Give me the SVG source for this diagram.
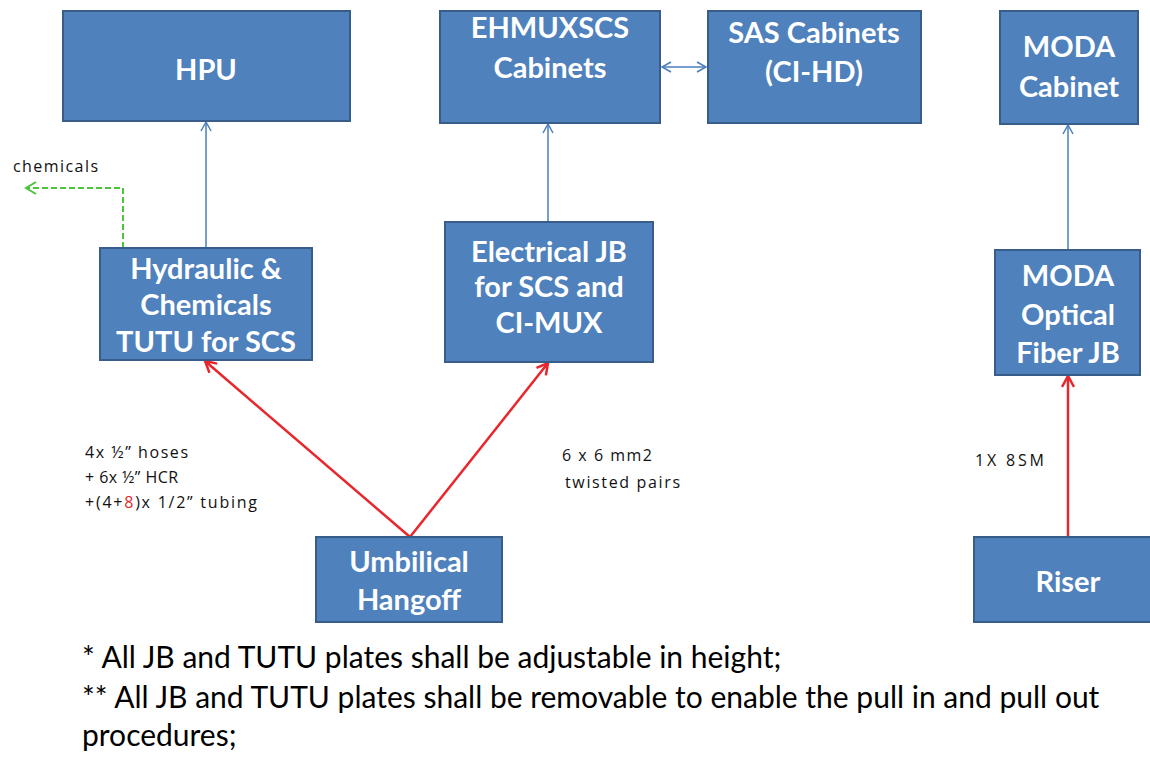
<svg xmlns="http://www.w3.org/2000/svg" width="1150" height="758" viewBox="0 0 1150 758">
<style>
.box{fill:#4F81BD;stroke:#385D8A;stroke-width:2}
.bt{font-family:Lato,"Open Sans",sans-serif;font-weight:bold;font-size:29px;fill:#fff;text-anchor:middle}
.sm{font-family:"Open Sans",sans-serif;font-size:16px;fill:#111}
.note{font-family:Lato,"Open Sans",sans-serif;font-size:30px;fill:#000}
.blue{stroke:#4A7EBB;stroke-width:1.5;fill:none}
.red{stroke:#E8262B;stroke-width:2.5;fill:none}
.green{stroke:#4CC43C;stroke-width:2;fill:none;stroke-dasharray:6,3}
</style>
<defs>
<marker id="ab" markerWidth="12" markerHeight="12" refX="10" refY="6" orient="auto" markerUnits="userSpaceOnUse"><path d="M1,1 L10,6 L1,11" fill="none" stroke="#4A7EBB" stroke-width="1.5"/></marker>
<marker id="abs" markerWidth="12" markerHeight="12" refX="10" refY="6" orient="auto-start-reverse" markerUnits="userSpaceOnUse"><path d="M1,1 L10,6 L1,11" fill="none" stroke="#4A7EBB" stroke-width="1.5"/></marker>
<marker id="ar" markerWidth="14" markerHeight="14" refX="12" refY="7" orient="auto" markerUnits="userSpaceOnUse"><path d="M1,1 L12,7 L1,13" fill="none" stroke="#E8262B" stroke-width="2.5"/></marker>
<marker id="ag" markerWidth="14" markerHeight="14" refX="11" refY="7" orient="auto" markerUnits="userSpaceOnUse"><path d="M1,1 L11,7 L1,13" fill="none" stroke="#4CC43C" stroke-width="2"/></marker>
</defs>
<g id="connectors">
<line class="blue" x1="206" y1="248" x2="206" y2="122" marker-end="url(#ab)"/>
<line class="blue" x1="548" y1="222" x2="548" y2="124" marker-end="url(#ab)"/>
<line class="blue" x1="1068" y1="250" x2="1068" y2="125" marker-end="url(#ab)"/>
<line class="blue" x1="662" y1="67" x2="706" y2="67" marker-start="url(#abs)" marker-end="url(#ab)"/>
<line class="red" x1="410" y1="537" x2="205" y2="361" marker-end="url(#ar)"/>
<line class="red" x1="410" y1="537" x2="548" y2="363" marker-end="url(#ar)"/>
<line class="red" x1="1068" y1="537" x2="1068" y2="376" marker-end="url(#ar)"/>
<polyline class="green" points="123,248 123,188 26,188" marker-end="url(#ag)"/>
</g>
<g id="hpu"><rect class="box" x="63" y="11" width="287" height="110"/><text class="bt" x="206" y="80">HPU</text></g>
<g id="ehmux"><rect class="box" x="440" y="11" width="220" height="112"/><text class="bt" x="550" y="38">EHMUXSCS</text><text class="bt" x="550" y="78">Cabinets</text></g>
<g id="sas"><rect class="box" x="708" y="11" width="213" height="112"/><text class="bt" x="814" y="43">SAS Cabinets</text><text class="bt" x="814" y="82">(CI-HD)</text></g>
<g id="moda-cab"><rect class="box" x="1000" y="11" width="138" height="113"/><text class="bt" x="1069" y="57">MODA</text><text class="bt" x="1069" y="97">Cabinet</text></g>
<g id="hydraulic"><rect class="box" x="100" y="248" width="212" height="112"/><text class="bt" x="206" y="279">Hydraulic &amp;</text><text class="bt" x="206" y="315">Chemicals</text><text class="bt" x="206" y="352">TUTU for SCS</text></g>
<g id="electrical"><rect class="box" x="445" y="222" width="208" height="140"/><text class="bt" x="549" y="262">Electrical JB</text><text class="bt" x="549" y="297">for SCS and</text><text class="bt" x="549" y="333">CI-MUX</text></g>
<g id="moda-jb"><rect class="box" x="995" y="250" width="145" height="125"/><text class="bt" x="1068" y="286">MODA</text><text class="bt" x="1068" y="325">Optical</text><text class="bt" x="1068" y="363">Fiber JB</text></g>
<g id="umbilical"><rect class="box" x="316" y="537" width="186" height="85"/><text class="bt" x="409" y="572">Umbilical</text><text class="bt" x="409" y="610">Hangoff</text></g>
<g id="riser"><rect class="box" x="974" y="537" width="180" height="85"/><text class="bt" x="1068" y="592">Riser</text></g>
<g id="labels">
<text class="sm" x="13" y="172" textLength="85" lengthAdjust="spacing">chemicals</text>
<text class="sm" x="85" y="458" textLength="103" lengthAdjust="spacing">4x ½” hoses</text>
<text class="sm" x="85" y="483" textLength="93" lengthAdjust="spacing">+ 6x ½” HCR</text>
<text class="sm" x="85" y="508" textLength="172" lengthAdjust="spacing">+(4+<tspan fill="#E8262B">8</tspan>)x 1/2” tubing</text>
<text class="sm" x="562" y="461" textLength="90" lengthAdjust="spacing">6 x 6 mm2</text>
<text class="sm" x="565" y="488" textLength="115" lengthAdjust="spacing">twisted pairs</text>
<text class="sm" x="975" y="466" textLength="69" lengthAdjust="spacing">1X 8SM</text>
<text class="note" x="82" y="668">* All JB and TUTU plates shall be adjustable in height;</text>
<text class="note" x="82" y="708">** All JB and TUTU plates shall be removable to enable the pull in and pull out</text>
<text class="note" x="82" y="746">procedures;</text>
</g>
</svg>
